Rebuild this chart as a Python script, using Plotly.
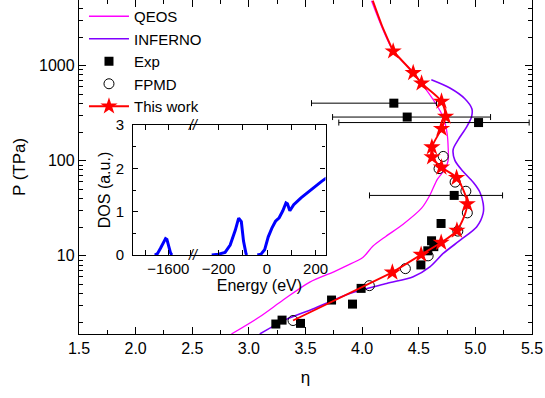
import plotly.graph_objects as go

# ---- Main panel data: P (TPa) versus compression ratio eta ----
qeos_eta = [4.083, 4.274, 4.451, 4.539, 4.642, 4.716, 4.751, 4.760, 4.760, 4.731, 4.664,
            4.598, 4.525, 4.362, 4.209, 4.094, 4.006, 3.856, 3.750, 3.538, 3.302, 3.096, 2.846]
qeos_p = [4820, 1439, 853, 618, 413, 288, 192, 135, 101, 81.3, 63.8,
          43.4, 31.7, 21.5, 16.0, 12.6, 9.6, 7.8, 6.8, 5.30, 3.43, 2.29, 1.51]

inferno_eta = [4.611, 4.775, 4.907, 4.969, 4.966, 4.922, 4.848, 4.804, 4.819, 4.890, 4.981,
               5.040, 5.069, 5.069, 5.011, 4.872, 4.716, 4.598, 4.451, 4.216, 3.891, 3.564,
               3.317, 3.096]
inferno_p = [710, 582, 449, 352, 288, 226, 166, 132, 101, 77.4, 59.3,
             46.6, 35.5, 28.1, 20.1, 14.8, 10.6, 7.67, 6.03, 5.13, 4.03, 2.76,
             2.11, 1.51]

exp_eta = [4.280, 4.398, 5.028, 4.813, 4.697, 4.613, 4.633, 4.580, 4.519, 3.991,
           3.730, 3.915, 3.293, 3.238, 3.456]
exp_p = [403, 288, 252, 43.2, 21.9, 14.4, 12.5, 11.3, 8.03, 4.55,
         3.43, 3.11, 2.11, 1.92, 1.95]
exp_err_minus = [0.727, 0.659, 1.234, 0.748] + [None] * 11
exp_err_plus = [0.377, 0.736, 0.447, 0.427] + [None] * 11

fpmd_eta = [4.716, 4.679, 4.821, 4.916, 4.929, 4.845, 4.583, 4.382, 4.064, 3.390]
fpmd_p = [111, 82.6, 59.6, 47.8, 28.3, 18.2, 10.0, 7.34, 4.86, 2.09]

work_eta = [4.274, 4.451, 4.525, 4.701, 4.737, 4.701, 4.616, 4.618, 4.700, 4.834,
            4.928, 4.837, 4.698, 4.521, 4.267]
work_p = [1416, 840, 653, 420, 292, 217, 139, 109, 85.3, 66.2,
          35.1, 18.5, 13.8, 10.3, 6.70]
# fitted curve continues above the first point and below the last one
work_top_eta = [4.094, 4.175]
work_top_p = [4820, 2636]
work_end_eta = [3.390]
work_end_p = [2.09]

# ---- Inset data: density of states with a broken energy axis ----
core_e = [-1660, -1648, -1635, -1622, -1612, -1606, -1598, -1590, -1584]
core_dos = [0.0, 0.03, 0.15, 0.28, 0.38, 0.36, 0.20, 0.05, 0.0]
val_e = [-228, -200, -173, -152, -131, -117, -106, -97, -87, -84, None,
         -40, -25, -10, 5, 20, 35, 50, 65, 78, 84, 94, 110, 140, 170, 200, 225, 245]
val_dos = [0.0, 0.02, 0.06, 0.23, 0.57, 0.85, 0.77, 0.32, 0.04, 0.0, None,
           0.0, 0.02, 0.12, 0.42, 0.62, 0.78, 0.86, 1.02, 1.20, 1.18, 1.02, 1.16, 1.32,
           1.46, 1.60, 1.70, 1.78]

FONT = "Arial, 'Liberation Sans', sans-serif"
W, H = 545, 398
ML, MR, MT, MB = 79, 13, 0, 64
PW, PH = W - ML - MR, H - MT - MB


def px(x):
    return (x - ML) / PW


def py(y):
    return (H - MB - y) / PH


fig = go.Figure()

fig.add_trace(go.Scatter(x=qeos_eta, y=qeos_p, mode="lines", name="QEOS",
                         line=dict(color="#ff00ff", width=1.3, shape="spline", smoothing=0.8)))
fig.add_trace(go.Scatter(x=inferno_eta, y=inferno_p, mode="lines", name="INFERNO",
                         line=dict(color="#8000ff", width=1.6, shape="spline", smoothing=0.8)))
fig.add_trace(go.Scatter(x=exp_eta, y=exp_p, mode="markers", name="Exp",
                         marker=dict(symbol="square", size=9, color="black"),
                         error_x=dict(type="data", array=exp_err_plus, arrayminus=exp_err_minus,
                                      color="black", thickness=1, width=3)))
fig.add_trace(go.Scatter(x=fpmd_eta, y=fpmd_p, mode="markers", name="FPMD",
                         marker=dict(symbol="circle-open", size=10, color="black",
                                     line=dict(width=1))))
# extensions of the fitted curve beyond the computed points
fig.add_trace(go.Scatter(x=work_top_eta + [work_eta[0], None, work_eta[-1]] + work_end_eta,
                         y=work_top_p + [work_p[0], None, work_p[-1]] + work_end_p,
                         mode="lines", showlegend=False, connectgaps=False,
                         line=dict(color="#ff0000", width=1.9, shape="spline", smoothing=0.6)))
fig.add_trace(go.Scatter(x=work_eta, y=work_p, mode="lines+markers", name="This work",
                         line=dict(color="#ff0000", width=1.9, shape="spline", smoothing=0.8),
                         marker=dict(symbol="star", size=13, color="#ff0000",
                                     line=dict(width=0))))

# inset traces
fig.add_trace(go.Scatter(x=core_e, y=core_dos, mode="lines", xaxis="x2", yaxis="y2",
                         showlegend=False, line=dict(color="#0000ff", width=3)))
fig.add_trace(go.Scatter(x=val_e, y=val_dos, mode="lines", xaxis="x3", yaxis="y3",
                         showlegend=False, connectgaps=False,
                         line=dict(color="#0000ff", width=3)))

tickfont = dict(family=FONT, size=16, color="black")
inset_font = dict(family=FONT, size=15, color="black")

x_in0, x_brk, x_in1 = px(133.3), px(193.3), px(325.5)
y_in0, y_in1 = py(255), py(125)

fig.update_layout(
    width=W, height=H,
    margin=dict(l=ML, r=MR, t=MT, b=MB, autoexpand=False),
    paper_bgcolor="white", plot_bgcolor="white",
    font=dict(family=FONT, color="black"),
    showlegend=True,
    legend=dict(x=0.011, y=1.0, xanchor="left", yanchor="top", bgcolor="rgba(0,0,0,0)",
                font=dict(family=FONT, size=15, color="black"), itemwidth=40,
                tracegroupgap=0),
    xaxis=dict(range=[1.5, 5.5], dtick=0.5, tick0=1.5, tickformat=".1f",
               showline=True, linecolor="black", linewidth=1.3, mirror="ticks",
               ticks="inside", ticklen=7, tickwidth=1.2, tickcolor="black",
               minor=dict(dtick=0.25, ticks="inside", ticklen=4, tickcolor="black"),
               showgrid=False, zeroline=False, tickfont=tickfont,
               title=dict(text="η", font=dict(family=FONT, size=17), standoff=14)),
    yaxis=dict(type="log", range=[0.1784, 3.69],
               tickvals=[10, 100, 1000], ticktext=["10", "100", "1000"],
               showline=True, linecolor="black", linewidth=1.3, mirror="ticks",
               ticks="inside", ticklen=7, tickwidth=1.2, tickcolor="black",
               minor=dict(tickvals=[2, 3, 4, 5, 6, 7, 8, 9, 20, 30, 40, 50, 60, 70, 80, 90,
                                    200, 300, 400, 500, 600, 700, 800, 900, 2000, 3000, 4000],
                          ticks="inside", ticklen=4, tickcolor="black"),
               showgrid=False, zeroline=False, tickfont=tickfont,
               title=dict(text="P (TPa)", font=dict(family=FONT, size=17), standoff=9)),
    xaxis2=dict(domain=[x_in0, x_brk], anchor="y2", range=[-1755, -1489],
                dtick=200, tick0=0, showline=True, linecolor="black", linewidth=1.3,
                mirror="ticks", ticks="inside", ticklen=5, tickcolor="black",
                minor=dict(dtick=100, tick0=0, ticks="inside", ticklen=5, tickcolor="black"),
                showgrid=False, zeroline=False, tickfont=inset_font),
    xaxis3=dict(domain=[x_brk, x_in1], anchor="y3", range=[-304, 241],
                dtick=200, tick0=0, showline=True, linecolor="black", linewidth=1.3,
                mirror="ticks", ticks="inside", ticklen=5, tickcolor="black",
                minor=dict(dtick=100, tick0=0, ticks="inside", ticklen=5, tickcolor="black"),
                showgrid=False, zeroline=False, tickfont=inset_font,
                title=dict(text="Energy (eV)", font=dict(family=FONT, size=16), standoff=0)),
    yaxis2=dict(domain=[y_in0, y_in1], anchor="x2", range=[0, 3], dtick=1,
                showline=True, linecolor="black", linewidth=1.3,
                ticks="inside", ticklen=5, tickcolor="black", ticklabelstandoff=5,
                minor=dict(dtick=0.5, ticks="inside", ticklen=3, tickcolor="black"),
                showgrid=False, zeroline=False, tickfont=inset_font,
                title=dict(text="DOS (a.u.)", font=dict(family=FONT, size=16), standoff=1)),
    yaxis3=dict(domain=[y_in0, y_in1], anchor="x3", range=[0, 3], dtick=1, side="right",
                showline=True, linecolor="black", linewidth=1.3, showticklabels=False,
                ticks="inside", ticklen=5, tickcolor="black",
                minor=dict(dtick=0.5, ticks="inside", ticklen=3, tickcolor="black"),
                showgrid=False, zeroline=False),
)

# break marks on the inset energy axis
for yy in (y_in0, y_in1):
    fig.add_annotation(x=x_brk, y=yy, xref="paper", yref="paper", text="<i>//</i>",
                       showarrow=False, font=dict(family=FONT, size=14, color="black"),
                       xanchor="center", yanchor="middle")

fig.write_html("out.html")
